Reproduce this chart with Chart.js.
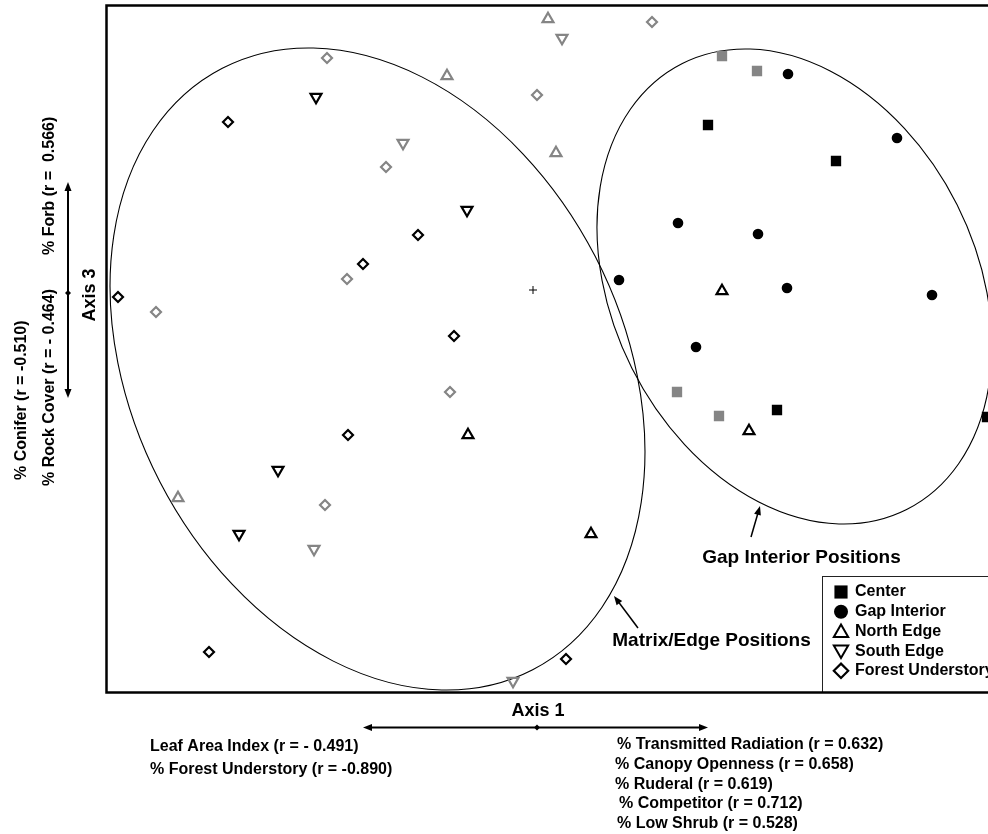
<!DOCTYPE html>
<html>
<head>
<meta charset="utf-8">
<script src="https://cdn.jsdelivr.net/npm/chart.js@4/dist/chart.umd.min.js"></script>
<style>
  html, body { margin: 0; padding: 0; background: #fff; overflow: hidden; }
  #wrap { width: 988px; height: 834px; overflow: hidden; }
</style>
</head>
<body>
<div id="wrap"><canvas id="c" width="1000" height="834"></canvas></div>
<script>
// Group names shown in the legend
const groups = ['Center', 'Gap Interior', 'North Edge', 'South Edge', 'Forest Understory'];

// Site scores as [Axis 1, Axis 3]; "dark" and "grey" are the two plot sets
const centerDark  = [[1.75, 1.65], [3.03, 1.29], [2.44, -1.20], [4.54, -1.27]];
const centerGrey  = [[1.89, 2.34], [2.24, 2.19], [1.44, -1.02], [1.86, -1.26]];
const gapInterior = [[2.55, 2.16], [3.64, 1.52], [1.45, 0.67], [2.25, 0.56],
                     [0.86, 0.10], [2.54, 0.02], [3.99, -0.05], [1.63, -0.57]];
const northDark   = [[1.89, -0.01], [2.16, -1.41], [0.58, -2.44], [-0.65, -1.45]];
const northGrey   = [[0.15, 2.71], [-0.86, 2.14], [0.23, 1.37], [-3.55, -2.08]];
const southDark   = [[-2.17, 1.93], [-0.66, 0.80], [-2.55, -1.80], [-2.94, -2.44]];
const southGrey   = [[0.29, 2.52], [-1.30, 1.47], [-2.19, -2.59], [-0.20, -3.91]];
const forestDark  = [[-3.05, 1.68], [-1.15, 0.55], [-1.70, 0.26], [-4.15, -0.07],
                     [-0.79, -0.46], [-1.85, -1.45], [-3.24, -3.62], [0.33, -3.69]];
const forestGrey  = [[-2.06, 2.32], [0.04, 1.95], [1.19, 2.68], [-1.47, 1.23],
                     [-1.86, 0.11], [-3.77, -0.22], [-0.83, -1.02], [-2.08, -2.15]];
const origin      = [[0, 0]];

// Axis extents (score units)
const axis1Range = [-4.265, 4.63];
const axis3Range = [-4.025, 2.845];

// Group ellipses: centre, semi-axes (score units), tilt in degrees
const matrixEllipse = { cx: -1.555, cy: -0.79, a: 3.384, b: 2.451, tilt: 62.7 };
const gapEllipse    = { cx: 2.615,  cy: 0.035, a: 2.496, b: 1.82,  tilt: 63.3 };

// Environmental correlates along each axis
const axis1Negative = ['Leaf Area Index (r = - 0.491)', '% Forest Understory (r = -0.890)'];
const axis1Positive = ['% Transmitted Radiation (r = 0.632)', '% Canopy Openness (r = 0.658)',
                       '% Ruderal (r = 0.619)', '% Competitor (r = 0.712)', '% Low Shrub (r = 0.528)'];
const axis3Positive = ['% Forb (r =  0.566)'];
const axis3Negative = ['% Rock Cover (r = - 0.464)', '% Conifer (r = -0.510)'];

const toXY = arr => arr.map(([x, y]) => ({ x, y }));
const GREY = '#858585';
const CLEAR = 'rgba(0,0,0,0)';
const FONT = '"Liberation Sans", Arial, sans-serif';

function markerSet(label, data, style, radius, fill, stroke, bw, rot) {
  return {
    label, data: toXY(data), showLine: false,
    pointStyle: style, pointRadius: radius, pointHoverRadius: radius,
    pointRotation: rot || 0, pointBackgroundColor: fill,
    pointBorderColor: stroke, pointBorderWidth: bw,
    backgroundColor: fill, borderColor: stroke
  };
}

function arrowHead(ctx, x, y, ang, len, half) {
  ctx.save();
  ctx.translate(x, y);
  ctx.rotate(ang);
  ctx.beginPath();
  ctx.moveTo(0, 0);
  ctx.lineTo(-len, -half);
  ctx.lineTo(-len, half);
  ctx.closePath();
  ctx.fill();
  ctx.restore();
}

function pointer(ctx, x1, y1, x2, y2) {
  const ang = Math.atan2(y2 - y1, x2 - x1);
  ctx.beginPath();
  ctx.moveTo(x1, y1);
  ctx.lineTo(x2 - Math.cos(ang) * 6, y2 - Math.sin(ang) * 6);
  ctx.stroke();
  arrowHead(ctx, x2, y2, ang, 9, 3.5);
}

function doubleArrow(ctx, x1, y1, x2, y2, mx, my) {
  const ang = Math.atan2(y2 - y1, x2 - x1);
  ctx.beginPath();
  ctx.moveTo(x1 + Math.cos(ang) * 6, y1 + Math.sin(ang) * 6);
  ctx.lineTo(x2 - Math.cos(ang) * 6, y2 - Math.sin(ang) * 6);
  ctx.stroke();
  arrowHead(ctx, x2, y2, ang, 9, 3.5);
  arrowHead(ctx, x1, y1, ang + Math.PI, 9, 3.5);
  ctx.beginPath();
  ctx.moveTo(mx - 3, my); ctx.lineTo(mx, my - 3); ctx.lineTo(mx + 3, my); ctx.lineTo(mx, my + 3);
  ctx.closePath();
  ctx.fill();
}

const ordinationDecor = {
  id: 'ordinationDecor',
  beforeDatasetsDraw(chart) {
    const { ctx, chartArea: ca, scales: { x, y } } = chart;
    const ux = x.getPixelForValue(1) - x.getPixelForValue(0);
    const uy = y.getPixelForValue(0) - y.getPixelForValue(1);
    ctx.save();
    ctx.beginPath();
    ctx.rect(ca.left, ca.top, ca.right - ca.left, ca.bottom - ca.top);
    ctx.clip();
    ctx.strokeStyle = '#000';
    ctx.lineWidth = 1.1;
    for (const e of [matrixEllipse, gapEllipse]) {
      ctx.beginPath();
      ctx.ellipse(x.getPixelForValue(e.cx), y.getPixelForValue(e.cy),
                  e.a * ux, e.b * uy, e.tilt * Math.PI / 180, 0, Math.PI * 2);
      ctx.stroke();
    }
    ctx.restore();
  },
  afterDatasetsDraw(chart) {
    const { ctx, chartArea: ca } = chart;
    ctx.save();
    ctx.fillStyle = '#000';
    ctx.strokeStyle = '#000';

    // group labels with pointers
    ctx.font = 'bold 19px ' + FONT;
    ctx.textAlign = 'center';
    ctx.textBaseline = 'middle';
    ctx.fillText('Gap Interior Positions', 801.5, 558);
    ctx.fillText('Matrix/Edge Positions', 711.5, 641);
    ctx.lineWidth = 1.5;
    pointer(ctx, 751, 537, 760, 506);
    pointer(ctx, 638, 628, 614, 596);

    // legend box
    const lx = 822.5, ly = 576.5;
    ctx.fillStyle = '#fff';
    ctx.fillRect(lx, ly, 200, ca.bottom - ly);
    ctx.strokeStyle = '#222';
    ctx.lineWidth = 1;
    ctx.strokeRect(lx, ly, 200, ca.bottom - ly);
    const legendMarks = [
      { pointStyle: 'rect', radius: 9.3, rotation: 0, borderWidth: 0, fill: '#000', dy: 0 },
      { pointStyle: 'circle', radius: 7, rotation: 0, borderWidth: 0, fill: '#000', dy: 0 },
      { pointStyle: 'triangle', radius: 8.3, rotation: 0, borderWidth: 2, fill: CLEAR, dy: 1.5 },
      { pointStyle: 'triangle', radius: 8.3, rotation: 180, borderWidth: 2, fill: CLEAR, dy: -1.5 },
      { pointStyle: 'rectRot', radius: 7.2, rotation: 0, borderWidth: 2.2, fill: CLEAR, dy: 0 }
    ];
    ctx.font = 'bold 16px ' + FONT;
    ctx.textAlign = 'left';
    groups.forEach((g, i) => {
      const yy = 592 + i * 19.7;
      const m = legendMarks[i];
      ctx.fillStyle = m.fill;
      ctx.strokeStyle = '#000';
      ctx.lineWidth = m.borderWidth;
      Chart.helpers.drawPoint(ctx, m, 841, yy + m.dy);
      ctx.fillStyle = '#000';
      ctx.fillText(g, 855, yy);
    });

    // plot frame
    ctx.strokeStyle = '#000';
    ctx.lineWidth = 2.5;
    ctx.strokeRect(ca.left, ca.top, ca.right - ca.left, ca.bottom - ca.top);

    // Axis 1 arrow and correlates
    ctx.fillStyle = '#000';
    ctx.lineWidth = 2;
    doubleArrow(ctx, 363, 727.5, 708, 727.5, 537, 727.5);
    ctx.font = 'bold 18px ' + FONT;
    ctx.textAlign = 'center';
    ctx.fillText('Axis 1', 538, 711);
    ctx.font = 'bold 16px ' + FONT;
    ctx.textAlign = 'left';
    axis1Negative.forEach((t, i) => ctx.fillText(t, 150, 747 + i * 22.5));
    const posX = [617, 615, 615, 619, 617];
    axis1Positive.forEach((t, i) => ctx.fillText(t, posX[i], 744.5 + i * 19.8));

    // Axis 3 arrow and correlates
    doubleArrow(ctx, 68, 182, 68, 398, 68, 293);
    ctx.save();
    ctx.translate(90, 295);
    ctx.rotate(-Math.PI / 2);
    ctx.font = 'bold 18px ' + FONT;
    ctx.textAlign = 'center';
    ctx.fillText('Axis 3', 0, 0);
    ctx.restore();
    const vText = (t, x, y0) => {
      ctx.save();
      ctx.translate(x, y0);
      ctx.rotate(-Math.PI / 2);
      ctx.font = 'bold 16px ' + FONT;
      ctx.textAlign = 'left';
      ctx.fillText(t, 0, 0);
      ctx.restore();
    };
    vText(axis3Positive[0], 50, 255);
    vText(axis3Negative[0], 50, 486);
    vText(axis3Negative[1], 22, 480);
    ctx.restore();
  }
};

new Chart(document.getElementById('c'), {
  type: 'scatter',
  data: {
    datasets: [
      markerSet('Center', centerDark, 'rect', 7.3, '#000', '#000', 0),
      markerSet('Center (grey)', centerGrey, 'rect', 7.3, GREY, GREY, 0),
      markerSet('Gap Interior', gapInterior, 'circle', 5.3, '#000', '#000', 0),
      markerSet('North Edge', northDark, 'triangle', 6.3, CLEAR, '#000', 2.2),
      markerSet('North Edge (grey)', northGrey, 'triangle', 6.3, CLEAR, GREY, 2.2),
      markerSet('South Edge', southDark, 'triangle', 6.3, CLEAR, '#000', 2.2, 180),
      markerSet('South Edge (grey)', southGrey, 'triangle', 6.3, CLEAR, GREY, 2.2, 180),
      markerSet('Forest Understory', forestDark, 'rectRot', 5, CLEAR, '#000', 2.2),
      markerSet('Forest Understory (grey)', forestGrey, 'rectRot', 5, CLEAR, GREY, 2.2),
      markerSet('Origin', origin, 'cross', 4, '#000', '#000', 1)
    ]
  },
  options: {
    responsive: false,
    animation: false,
    devicePixelRatio: 1,
    events: [],
    layout: { autoPadding: false, padding: { left: 106.5, top: 5.5, right: 4, bottom: 141.5 } },
    scales: {
      x: { type: 'linear', min: axis1Range[0], max: axis1Range[1], display: false },
      y: { type: 'linear', min: axis3Range[0], max: axis3Range[1], display: false }
    },
    plugins: { legend: { display: false }, tooltip: { enabled: false } }
  },
  plugins: [ordinationDecor]
});
</script>
</body>
</html>
